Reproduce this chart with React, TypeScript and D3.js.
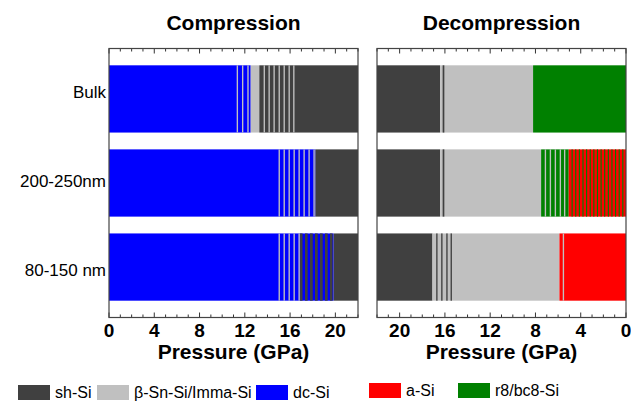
import React from 'react';
import * as d3 from 'd3';

type Seg = [number, number, string];

const rowLabels = ['Bulk', '200-250nm', '80-150 nm'];
const phaseKeys = ['sh', 'bsn', 'dc', 'a', 'r8'];
const phaseNames = ['sh-Si', 'β-Sn-Si/Imma-Si', 'dc-Si', 'a-Si', 'r8/bc8-Si'];
const phaseColors = ['#404040', '#c0c0c0', '#0000ff', '#ff0000', '#008000'];

const majorTicks = [0, 4, 8, 12, 16, 20];
const minorTicks = d3.range(0, 23, 1);

// compression: [from GPa, to GPa, phase], later entries sit on top
const compBulk: Seg[] = [
  [0, 12.52, 'dc'], [12.52, 13.28, 'bsn'], [13.28, 22, 'sh'],
  [11.28, 11.4, 'bsn'], [11.75, 11.87, 'bsn'], [12.22, 12.34, 'bsn'],
  [13.66, 13.78, 'bsn'], [14.09, 14.21, 'bsn'], [14.53, 14.65, 'bsn'], [14.98, 15.1, 'bsn'],
  [15.42, 15.54, 'bsn'], [15.86, 15.98, 'bsn'], [16.27, 16.39, 'bsn'],
];
const comp200: Seg[] = [
  [0, 18.24, 'dc'], [18.24, 22, 'sh'],
  [14.98, 15.1, 'bsn'], [15.42, 15.54, 'bsn'], [15.86, 15.98, 'bsn'], [16.3, 16.42, 'bsn'],
  [16.74, 16.86, 'bsn'], [17.18, 17.3, 'bsn'], [17.62, 17.74, 'bsn'], [18.06, 18.18, 'bsn'],
];
const comp80: Seg[] = [
  [0, 19.85, 'dc'], [19.85, 22, 'sh'],
  [14.98, 15.1, 'bsn'], [15.42, 15.54, 'bsn'], [15.86, 15.98, 'bsn'], [16.3, 16.42, 'bsn'], [16.74, 16.86, 'bsn'],
  [16.88, 17.1, 'sh'], [17.32, 17.55, 'sh'], [17.76, 18.0, 'sh'], [18.2, 18.44, 'sh'],
  [18.64, 18.88, 'sh'], [19.08, 19.32, 'sh'], [19.52, 19.75, 'sh'],
];

// decompression
const decBulk: Seg[] = [
  [16.42, 22, 'sh'], [8.21, 16.42, 'bsn'], [0, 8.21, 'r8'],
  [16.05, 16.2, 'sh'],
];
const dec200: Seg[] = [
  [16.42, 22, 'sh'], [7.5, 16.42, 'bsn'], [5.06, 7.5, 'r8'], [0, 5.06, 'a'],
  [16.05, 16.2, 'sh'],
  [7.06, 7.18, 'bsn'], [6.62, 6.74, 'bsn'], [6.18, 6.3, 'bsn'], [5.74, 5.86, 'bsn'], [5.36, 5.48, 'bsn'],
  [4.71, 4.81, 'r8'], [4.39, 4.49, 'r8'], [4.07, 4.17, 'r8'], [3.75, 3.85, 'r8'], [3.43, 3.53, 'r8'],
  [3.11, 3.21, 'r8'], [2.79, 2.89, 'r8'], [2.47, 2.57, 'r8'], [2.15, 2.25, 'r8'], [1.83, 1.93, 'r8'],
  [1.51, 1.61, 'r8'], [1.19, 1.29, 'r8'], [0.87, 0.97, 'r8'], [0.55, 0.65, 'r8'], [0.23, 0.33, 'r8'],
];
const dec80: Seg[] = [
  [17.1, 22, 'sh'], [5.88, 17.1, 'bsn'], [0, 5.88, 'a'],
  [16.65, 16.77, 'sh'], [16.21, 16.33, 'sh'], [15.76, 15.88, 'sh'], [15.38, 15.5, 'sh'],
  [5.47, 5.59, 'bsn'],
];

const compRows = [compBulk, comp200, comp80];
const decRows = [decBulk, dec200, dec80];

const W = 631;
const H = 401;
const top = 48.5;
const bottom = 317.5;
const font = 'Arial, "Liberation Sans", sans-serif';

const color = d3.scaleOrdinal<string, string>().domain(phaseKeys).range(phaseColors);
const y = d3.scaleBand<string>().domain(rowLabels).range([top, bottom]).paddingInner(0.2).paddingOuter(0.2);
// row labels sit a little off the bar centres in the original
const yLabel = d3.scalePoint<string>().domain(rowLabels).range([92, 270]);

function Panel({ x, title, rows, showRows }: { x: d3.ScaleLinear<number, number>; title: string; rows: Seg[][]; showRows: boolean }) {
  const [x0, x1] = x.range();
  const left = Math.min(x0, x1);
  const right = Math.max(x0, x1);
  const cx = (left + right) / 2;
  return (
    <g>
      <text x={cx} y={30} textAnchor="middle" fontSize={21} fontWeight="bold" fontFamily={font}>{title}</text>
      {rows.map((segs, i) => (
        <g key={i}>
          {segs.map((s, j) => {
            const a = x(s[0]);
            const b = x(s[1]);
            return (
              <rect key={j} x={Math.min(a, b)} width={Math.abs(b - a)} y={y(rowLabels[i])} height={y.bandwidth()} fill={color(s[2])} />
            );
          })}
        </g>
      ))}
      {showRows && rowLabels.map(r => (
        <text key={r} x={left - 3} y={yLabel(r)} textAnchor="end" dominantBaseline="central" fontSize={17} fontFamily={font}>{r}</text>
      ))}
      {minorTicks.map(t => (
        <g key={t} stroke="#333" strokeWidth={1}>
          <line x1={x(t)} x2={x(t)} y1={bottom} y2={bottom - (t % 4 === 0 ? 5 : 3)} />
          <line x1={x(t)} x2={x(t)} y1={top} y2={top + (t % 4 === 0 ? 5 : 3)} />
        </g>
      ))}
      <rect x={left} y={top} width={right - left} height={bottom - top} fill="none" stroke="#444" strokeWidth={1.2} />
      {majorTicks.map(t => (
        <text key={t} x={x(t)} y={337} textAnchor="middle" fontSize={19} fontWeight="bold" fontFamily={font}>{t}</text>
      ))}
      <text x={cx} y={359} textAnchor="middle" fontSize={21} fontWeight="bold" fontFamily={font}>Pressure (GPa)</text>
    </g>
  );
}

const legendX = [18, 97, 256, 369, 458];
const legendY = [385, 385, 385, 383, 383];

export default function App() {
  const xComp = d3.scaleLinear().domain([0, 22]).range([109, 358]);
  const xDec = d3.scaleLinear().domain([22, 0]).range([377, 626]);
  return (
    <svg width={W} height={H} style={{ position: 'absolute', left: 0, top: 0, background: '#fff' }}>
      <Panel x={xComp} title="Compression" rows={compRows} showRows={true} />
      <Panel x={xDec} title="Decompression" rows={decRows} showRows={false} />
      {phaseNames.map((n, i) => (
        <g key={n} transform={`translate(${legendX[i]},${legendY[i]})`}>
          <rect width={32} height={15} fill={phaseColors[i]} />
          <text x={37} y={13} fontSize={16} fontFamily={font}>{n}</text>
        </g>
      ))}
    </svg>
  );
}
